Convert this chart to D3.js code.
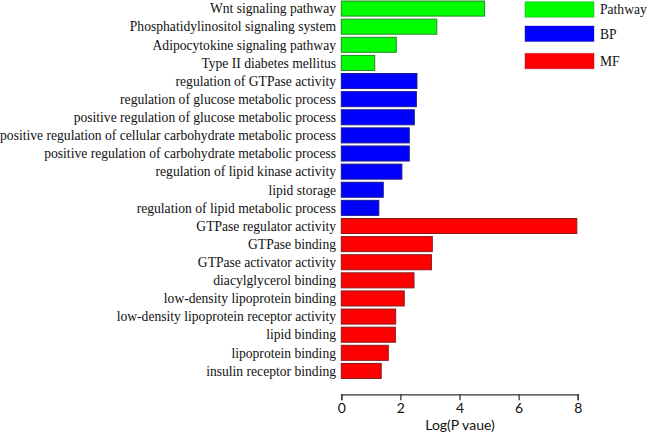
<!DOCTYPE html>
<html><head><meta charset="utf-8">
<script src="https://cdn.jsdelivr.net/npm/d3@7"></script>
<style>body{margin:0;background:#fff}</style>
</head><body>
<svg id="c" width="647" height="433"></svg>
<script>
const categories = [
  "Wnt signaling pathway","Phosphatidylinositol signaling system","Adipocytokine signaling pathway","Type II diabetes mellitus",
  "regulation of GTPase activity","regulation of glucose metabolic process","positive regulation of glucose metabolic process",
  "positive regulation of cellular carbohydrate metabolic process","positive regulation of carbohydrate metabolic process",
  "regulation of lipid kinase activity","lipid storage","regulation of lipid metabolic process",
  "GTPase regulator activity","GTPase binding","GTPase activator activity","diacylglycerol binding",
  "low-density lipoprotein binding","low-density lipoprotein receptor activity","lipid binding","lipoprotein binding","insulin receptor binding"
];
const values = [4.85,3.23,1.86,1.13,2.56,2.54,2.47,2.30,2.30,2.05,1.42,1.27,7.97,3.08,3.05,2.46,2.13,1.84,1.83,1.59,1.35];
const groups = ["Pathway","Pathway","Pathway","Pathway","BP","BP","BP","BP","BP","BP","BP","BP","MF","MF","MF","MF","MF","MF","MF","MF","MF"];
const legendLabels = ["Pathway","BP","MF"];
const xTicks = [0,2,4,6,8];
const fills = {Pathway:"#00ff00",BP:"#0000ff",MF:"#ff0000"};
const strokes = {Pathway:"#1f8a1f",BP:"#1a1a8a",MF:"#8a1a1a"};

const svg = d3.select("#c");
const x = d3.scaleLinear().domain([0,8]).range([341.3,577.7]);
const y = d3.scaleBand().domain(categories).range([-0.5,380]).paddingInner(0.17).paddingOuter(0.085);

svg.selectAll("rect.bar").data(categories).enter().append("rect")
  .attr("class","bar")
  .attr("x", x(0))
  .attr("y", d=>y(d))
  .attr("width", (d,i)=>x(values[i])-x(0))
  .attr("height", y.bandwidth())
  .attr("fill",(d,i)=>fills[groups[i]])
  .attr("stroke",(d,i)=>strokes[groups[i]])
  .attr("stroke-width",1);

svg.selectAll("text.lab").data(categories).enter().append("text")
  .attr("class","lab")
  .attr("x", 336)
  .attr("y", d=>y(d)+y.bandwidth()/2)
  .attr("dy","0.35em")
  .attr("text-anchor","end")
  .attr("font-family","'Liberation Serif', serif")
  .attr("font-size","13.6px")
  .attr("fill","#111")
  .text(d=>d);

const ax = svg.append("g").attr("transform","translate(0,394.3)")
  .call(d3.axisBottom(x).tickValues(xTicks).tickSize(6).tickPadding(3).tickFormat(d3.format("d")));
ax.select(".domain").attr("stroke","#333").attr("stroke-width",1.3);
ax.selectAll(".tick line").attr("stroke","#333").attr("stroke-width",1.3);
ax.selectAll(".tick text").attr("font-family","Lato, 'Open Sans', sans-serif").attr("font-size","14px").attr("fill","#111");

svg.append("text").attr("x",460).attr("y",430).attr("text-anchor","middle")
  .attr("font-family","Lato, 'Open Sans', sans-serif").attr("font-size","14px").attr("fill","#111")
  .text("Log(P vaue)");

const legY = [1.7,26,53.3];
const lg = svg.selectAll("g.leg").data(legendLabels).enter().append("g").attr("class","leg");
lg.append("rect").attr("x",525).attr("width",69)
  .attr("y",(d,i)=>legY[i]).attr("height",15.5)
  .attr("fill",d=>fills[d]).attr("stroke",d=>strokes[d]).attr("stroke-opacity",0.4);
lg.append("text").attr("x",600).attr("y",(d,i)=>legY[i]+7.8).attr("dy","0.35em")
  .attr("font-family","'Liberation Serif', serif").attr("font-size","13.6px").attr("fill","#111")
  .text(d=>d);
</script>
</body></html>
